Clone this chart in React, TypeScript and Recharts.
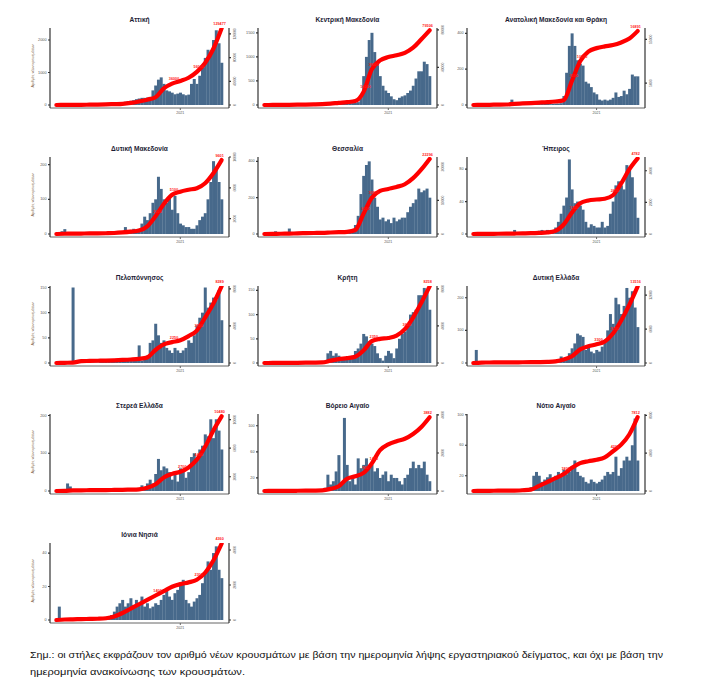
import React from 'react';
import { ComposedChart, Bar, Line, XAxis, YAxis } from 'recharts';

// ---------- DATA (≈ weekly points, Mar 2020 – Apr 2021; index 45 = 1 Jan 2021) ----------
const yearTickIndex = [45];
const yearLabel = '2021';

const atticaBars = [0, 5, 10, 5, 3, 2, 2, 2, 3, 5, 8, 10, 10, 12, 15, 20, 25, 30, 30, 35, 40,
  50, 60, 70, 80, 100, 120, 130, 150, 180, 200, 220, 220, 230, 250, 450, 600, 780, 850, 650, 450,
  420, 380, 330, 350, 380, 330, 300, 320, 650, 800, 650, 900, 1200, 1450, 1700, 1600, 2000, 2300, 1900, 1300];
const atticaCum = [0, 100, 200, 300, 500, 700, 1000, 1500, 2000, 3500, 6000, 9000, 13000, 28000, 36000, 40500, 46000, 56000, 71000, 95000, 129477];

const kmakBars = [0, 0, 0, 1, 1, 1, 1, 2, 2, 2, 2, 3, 3, 3, 3, 3, 4, 4, 5, 5, 5,
  6, 8, 10, 20, 25, 30, 22, 28, 30, 35, 38, 40, 45, 60, 200, 600, 1000, 1350, 1500, 1100,
  900, 600, 400, 300, 250, 180, 120, 100, 150, 180, 200, 250, 300, 400, 550, 700, 700, 900, 850, 600];
const kmakCum = [0, 50, 100, 200, 300, 400, 600, 900, 1500, 2300, 3000, 4200, 14000, 38000, 47500, 51000, 53000, 55500, 61000, 70000, 79506];

const amthBars = [0, 0, 0, 1, 1, 2, 2, 2, 3, 3, 3, 3, 3, 5, 30, 8, 3, 3, 2, 3, 4,
  15, 15, 12, 8, 6, 8, 6, 5, 6, 8, 8, 10, 50, 180, 330, 400, 330, 250, 230, 220,
  130, 120, 100, 70, 60, 30, 25, 30, 25, 30, 40, 70, 45, 50, 80, 60, 90, 170, 160, 160];
const amthCum = [0, 20, 50, 80, 120, 250, 350, 450, 550, 650, 800, 1100, 5500, 10000, 12200, 13000, 13400, 13700, 14300, 15200, 16891];

const dmakBars = [0, 5, 8, 14, 5, 2, 1, 1, 1, 1, 1, 1, 1, 1, 1, 2, 2, 2, 3, 5, 4,
  4, 5, 6, 8, 20, 10, 12, 15, 12, 15, 30, 50, 40, 60, 90, 100, 165, 130, 100, 90,
  110, 70, 110, 60, 30, 25, 20, 20, 15, 15, 25, 40, 50, 60, 100, 150, 210, 190, 150, 100];
const dmakCum = [0, 30, 50, 60, 70, 80, 100, 130, 200, 300, 450, 1000, 2300, 3900, 5100, 5500, 5750, 5950, 6600, 7900, 9601];

const thesBars = [0, 0, 1, 2, 15, 2, 1, 1, 2, 30, 5, 2, 2, 1, 1, 1, 1, 2, 2, 3, 3,
  4, 10, 12, 10, 5, 5, 6, 8, 10, 20, 15, 20, 50, 100, 220, 320, 380, 400, 300, 200,
  150, 80, 90, 70, 80, 60, 90, 70, 80, 90, 90, 120, 150, 170, 190, 250, 230, 240, 250, 200];
const thesCum = [0, 30, 80, 100, 200, 250, 300, 350, 450, 550, 650, 1200, 6000, 10800, 12800, 13400, 14000, 14800, 16600, 19200, 22296];

const ipirBars = [0, 0, 0, 2, 0, 0, 0, 0, 0, 0, 0, 0, 0, 0, 1, 5, 1, 1, 1, 1, 1,
  2, 3, 3, 4, 5, 4, 5, 4, 5, 8, 15, 25, 35, 45, 92, 55, 38, 40, 35, 30,
  15, 8, 12, 10, 8, 8, 15, 8, 10, 25, 40, 60, 65, 60, 55, 85, 80, 70, 45, 20];
const ipirCum = [0, 5, 10, 15, 20, 30, 40, 50, 70, 100, 200, 600, 1350, 1950, 2120, 2180, 2230, 2450, 3200, 4100, 4782];

const pelBars = [0, 0, 0, 0, 0, 1, 150, 1, 1, 1, 1, 1, 1, 1, 1, 1, 2, 2, 2, 2, 2,
  2, 3, 3, 4, 5, 4, 4, 5, 4, 35, 5, 8, 15, 40, 45, 78, 55, 40, 45, 30,
  25, 20, 30, 25, 20, 25, 30, 45, 40, 55, 75, 90, 100, 150, 110, 120, 130, 125, 145, 85];
const pelCum = [0, 20, 40, 200, 220, 240, 260, 290, 330, 380, 450, 600, 1400, 2000, 2250, 2450, 2900, 3500, 4900, 6400, 8289];

const critBars = [0, 0, 0, 0, 0, 0, 1, 1, 1, 1, 1, 1, 1, 1, 1, 1, 1, 2, 2, 2, 2,
  2, 5, 20, 25, 15, 20, 15, 10, 10, 8, 10, 15, 25, 30, 40, 60, 55, 45, 40, 35,
  20, 10, 5, 15, 25, 20, 10, 30, 50, 60, 65, 80, 100, 105, 110, 140, 140, 155, 145, 110];
const critCum = [0, 5, 10, 15, 20, 30, 40, 60, 250, 420, 520, 680, 1350, 2350, 2600, 2700, 2950, 3650, 4900, 6500, 8258];

const dellBars = [0, 40, 1, 0, 0, 0, 0, 0, 0, 0, 0, 0, 1, 1, 1, 1, 1, 1, 1, 2, 2,
  2, 2, 3, 3, 3, 4, 5, 8, 5, 8, 10, 20, 12, 15, 30, 45, 60, 90, 85, 80,
  40, 50, 35, 30, 40, 35, 50, 70, 100, 150, 120, 200, 180, 150, 175, 230, 200, 220, 170, 110];
const dellCum = [0, 80, 90, 100, 110, 120, 130, 140, 160, 200, 300, 600, 1200, 2400, 2950, 3300, 3800, 5200, 7500, 10300, 13516];

const stelBars = [0, 0, 0, 0, 20, 12, 2, 1, 1, 1, 1, 1, 1, 1, 1, 1, 1, 2, 2, 5, 2,
  2, 2, 3, 3, 3, 3, 4, 5, 4, 5, 15, 10, 20, 30, 20, 45, 85, 55, 65, 60,
  50, 30, 45, 25, 60, 55, 35, 50, 90, 100, 80, 110, 120, 150, 145, 190, 140, 190, 160, 110];
const stelCum = [0, 10, 80, 100, 110, 120, 130, 150, 170, 190, 230, 450, 950, 1900, 2400, 2700, 3300, 4400, 6200, 8500, 10480];

const baigBars = [0, 0, 0, 0, 0, 0, 0, 0, 0, 0, 0, 0, 0, 0, 0, 0, 0, 1, 1, 1, 1,
  2, 5, 25, 10, 15, 30, 55, 10, 112, 40, 15, 20, 10, 50, 35, 40, 50, 35, 40, 30,
  35, 20, 25, 30, 15, 25, 20, 20, 15, 10, 20, 25, 35, 45, 35, 40, 35, 45, 25, 15];
const baigCum = [0, 3, 6, 9, 12, 15, 20, 30, 110, 250, 640, 780, 950, 1450, 2150, 2450, 2620, 2750, 3000, 3370, 3882];

const naigBars = [0, 0, 0, 0, 0, 0, 0, 0, 0, 0, 0, 0, 0, 0, 0, 0, 2, 2, 3, 2, 3,
  5, 20, 25, 20, 12, 15, 18, 22, 15, 20, 25, 20, 28, 22, 25, 30, 40, 25, 20, 18,
  12, 10, 15, 12, 10, 12, 15, 20, 25, 22, 25, 45, 20, 30, 40, 45, 40, 60, 95, 40];
const naigCum = [0, 10, 20, 30, 40, 50, 80, 150, 550, 950, 1350, 1800, 2450, 2950, 3150, 3300, 3550, 4200, 4900, 6000, 7812];

const ionBars = [0, 8, 1, 0, 0, 0, 0, 0, 0, 0, 0, 0, 0, 0, 0, 1, 1, 1, 1, 2, 3,
  5, 8, 10, 12, 8, 10, 13, 9, 12, 10, 14, 8, 10, 7, 8, 10, 9, 12, 15, 18,
  14, 12, 16, 18, 22, 24, 12, 10, 8, 11, 13, 15, 22, 28, 35, 30, 40, 44, 30, 25];
const ionCum = [0, 30, 40, 50, 60, 70, 100, 200, 400, 650, 900, 1150, 1400, 1650, 1900, 2050, 2150, 2300, 2700, 3400, 4360];

const footnote1 = 'Σημ.:  οι στήλες εκφράζουν τον αριθμό νέων κρουσμάτων με βάση την ημερομηνία λήψης εργαστηριακού δείγματος, και όχι με βάση την';
const footnote2 = 'ημερομηνία ανακοίνωσης των κρουσμάτων.';
const yTitle = 'Αριθμός νέων κρουσμάτων';

// ---------- LAYOUT ----------
const COLS = [{ l: 50, r: 229 }, { l: 258, r: 437 }, { l: 467, r: 645 }];
const ROW_TOP = [28, 157, 286, 414, 543];
const PH = 80;

type PanelDef = {
  title: string; bars: number[]; cum: number[];
  lt: number[]; lmax: number; rt: number[]; rmax: number;
  ann: number[]; col: number; row: number;
};

const panels: PanelDef[] = [
  { title: 'Αττική', bars: atticaBars, cum: atticaCum, lt: [0, 500, 1000, 1500, 2000], lmax: 2370, rt: [0, 20000, 40000, 60000, 80000, 100000, 120000], rmax: 130000, ann: [14, 17, 20], col: 0, row: 0 },
  { title: 'Κεντρική Μακεδονία', bars: kmakBars, cum: kmakCum, lt: [0, 500, 1000, 1500], lmax: 1600, rt: [0, 20000, 40000, 60000, 80000], rmax: 82000, ann: [12, 13, 20], col: 1, row: 0 },
  { title: 'Ανατολική Μακεδονία και Θράκη', bars: amthBars, cum: amthCum, lt: [0, 100, 200, 300, 400], lmax: 430, rt: [0, 5000, 10000, 15000], rmax: 17600, ann: [12, 13, 20], col: 2, row: 0 },
  { title: 'Δυτική Μακεδονία', bars: dmakBars, cum: dmakCum, lt: [0, 50, 100, 150, 200], lmax: 222, rt: [0, 2000, 4000, 6000, 8000, 10000], rmax: 10000, ann: [12, 14, 20], col: 0, row: 1 },
  { title: 'Θεσσαλία', bars: thesBars, cum: thesCum, lt: [0, 100, 200, 300, 400], lmax: 424, rt: [0, 5000, 10000, 15000, 20000], rmax: 22900, ann: [12, 13, 20], col: 1, row: 1 },
  { title: 'Ήπειρος', bars: ipirBars, cum: ipirCum, lt: [0, 20, 40, 60, 80], lmax: 95, rt: [0, 1000, 2000, 3000, 4000], rmax: 4870, ann: [12, 17, 20], col: 2, row: 1 },
  { title: 'Πελοπόννησος', bars: pelBars, cum: pelCum, lt: [0, 50, 100, 150], lmax: 153, rt: [0, 2000, 4000, 6000, 8000], rmax: 8300, ann: [14, 17, 20], col: 0, row: 2 },
  { title: 'Κρήτη', bars: critBars, cum: critCum, lt: [0, 50, 100, 150], lmax: 159, rt: [0, 2000, 4000, 6000, 8000], rmax: 8300, ann: [13, 17, 20], col: 1, row: 2 },
  { title: 'Δυτική Ελλάδα', bars: dellBars, cum: dellCum, lt: [0, 50, 100, 150, 200], lmax: 236, rt: [0, 2000, 4000, 6000, 8000, 10000, 12000], rmax: 13600, ann: [15, 17, 20], col: 2, row: 2 },
  { title: 'Στερεά Ελλάδα', bars: stelBars, cum: stelCum, lt: [0, 50, 100, 150, 200], lmax: 204, rt: [0, 2000, 4000, 6000, 8000, 10000], rmax: 10800, ann: [15, 17, 20], col: 0, row: 3 },
  { title: 'Βόρειο Αιγαίο', bars: baigBars, cum: baigCum, lt: [0, 20, 40, 60, 80, 100], lmax: 118, rt: [0, 1000, 2000, 3000, 4000], rmax: 4050, ann: [12, 13, 20], col: 1, row: 3 },
  { title: 'Νότιο Αιγαίο', bars: naigBars, cum: naigCum, lt: [0, 20, 40, 60, 80, 100], lmax: 101, rt: [0, 2000, 4000, 6000, 8000], rmax: 8140, ann: [11, 17, 20], col: 2, row: 3 },
  { title: 'Ιόνια Νησιά', bars: ionBars, cum: ionCum, lt: [0, 10, 20, 30, 40], lmax: 46, rt: [0, 1000, 2000, 3000, 4000], rmax: 4400, ann: [12, 17, 20], col: 0, row: 4 },
];

const ML = 16, LW = 14, MR = 16, RW = 10, MT = 10, MB = 4, XH = 12;
const FONT = '"Liberation Sans", Arial, sans-serif';

const RightTick = (p: any) => {
  const x = p.x + 1.5;
  const y = p.y;
  return (
    <text x={x} y={y} transform={`rotate(-90 ${x} ${y})`} textAnchor="middle" dominantBaseline="hanging" fontSize={3.4} fill="#666" fontFamily={FONT}>
      {p.payload.value}
    </text>
  );
};

const LeftTick = (p: any) => (
  <text x={p.x} y={p.y} textAnchor="end" dominantBaseline="central" fontSize={3.8} fill="#555" fontFamily={FONT}>
    {p.payload.value}
  </text>
);

function Panel({ d }: { d: PanelDef }) {
  const c = COLS[d.col];
  const T = ROW_TOP[d.row];
  const W = c.r - c.l + ML + LW + MR + RW;
  const H = MT + PH + XH + MB;
  const annIdx = d.ann.map((k) => k * 3);
  const data = d.bars.map((v, i) => ({ i, v, c: i % 3 === 0 ? d.cum[i / 3] : null }));
  const renderLabel = (p: any) => {
    const { x, y, index, value } = p;
    if (value == null || !annIdx.includes(index) || x == null || y == null) return <g key={`l${index}`} />;
    const last = index === 60;
    return (
      <text key={`l${index}`} x={last ? x - 2 : x + 2} y={y - 3.5} textAnchor="middle" fontSize={3.8} fontWeight="bold" fill="#ff1a1a" fontFamily={FONT}>
        {value}
      </text>
    );
  };
  return (
    <div style={{ position: 'absolute', left: c.l - ML - LW, top: T - MT }}>
      <ComposedChart width={W} height={H} data={data} margin={{ top: MT, right: MR, bottom: MB, left: ML }} barCategoryGap="2%">
        <XAxis dataKey="i" type="category" ticks={yearTickIndex} interval={0} tickFormatter={() => yearLabel}
          height={XH} padding={{ left: 5, right: 6 }} tick={{ fontSize: 3.6, fill: '#555', fontFamily: FONT }}
          tickSize={2} tickMargin={1} stroke="#666" />
        <YAxis yAxisId="l" type="number" domain={[-d.lmax * 3 / 77, d.lmax]} ticks={d.lt} width={LW} allowDataOverflow
          tick={<LeftTick />} tickSize={2} tickMargin={1.5} stroke="#333" strokeWidth={1.2} />
        <YAxis yAxisId="r" orientation="right" type="number" domain={[-d.rmax * 3 / 77, d.rmax]} ticks={d.rt} width={RW} allowDataOverflow
          tick={<RightTick />} tickSize={2} tickMargin={1} stroke="#333" strokeWidth={1.2} />
        <Bar yAxisId="l" dataKey="v" fill="#47698b" isAnimationActive={false} />
        <Line yAxisId="r" dataKey="c" type="monotone" stroke="#ff0000" strokeWidth={4.2} dot={false} connectNulls
          isAnimationActive={false} label={renderLabel} strokeLinecap="round" />
      </ComposedChart>
    </div>
  );
}

export default function App() {
  return (
    <div style={{ position: 'absolute', left: 0, top: 0, width: 710, height: 687, background: '#fff', fontFamily: FONT }}>
      {panels.map((d) => <Panel key={d.title} d={d} />)}
      <svg width={710} height={687} style={{ position: 'absolute', left: 0, top: 0, pointerEvents: 'none' }}>
        {panels.map((d) => {
          const c = COLS[d.col];
          const T = ROW_TOP[d.row];
          return (
            <text key={`t${d.title}`} x={(c.l + c.r) / 2} y={T - 6} textAnchor="middle" fontSize={6.6} fontWeight="bold" fill="#1d1d35" fontFamily={FONT}>
              {d.title}
            </text>
          );
        })}
        {ROW_TOP.map((T, r) => (
          <text key={`yt${r}`} x={34} y={T + 38} transform={`rotate(-90 34 ${T + 38})`} textAnchor="middle" fontSize={3.6} fill="#7a5a3a" fontFamily={FONT}>
            {yTitle}
          </text>
        ))}
        <text x={30} y={658} fontSize={9.6} fill="#111" fontFamily={FONT} textLength={633} lengthAdjust="spacingAndGlyphs">{footnote1}</text>
        <text x={30} y={675} fontSize={9.6} fill="#111" fontFamily={FONT} textLength={215} lengthAdjust="spacingAndGlyphs">{footnote2}</text>
      </svg>
    </div>
  );
}
